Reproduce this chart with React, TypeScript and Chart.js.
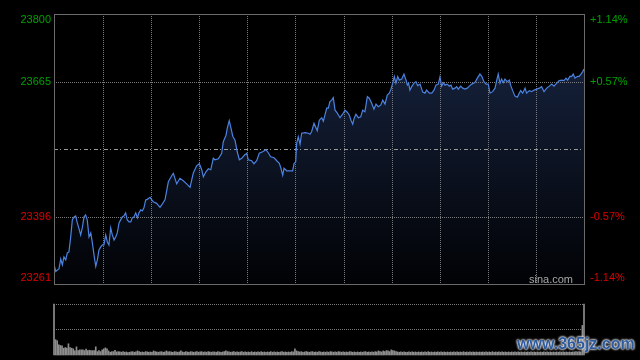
import React, { useEffect, useRef } from 'react';
import { Chart, registerables } from 'chart.js';

Chart.register(...registerables);

// ---- data (minutes since open, 330-minute trading day) ----
const minutes = [
  0, 1.1, 2.1, 3.1, 4.2, 5.2, 6.2, 7.3, 8.3, 9.3,
  10.4, 11.4, 12.5, 13.5, 14.5, 15.6, 16.6, 17.6, 18.7, 19.7,
  20.7, 21.8, 22.9, 23.8, 24.9, 26.0, 27.0, 28.0, 29.1, 30.1,
  31.1, 32.2, 33.2, 34.2, 35.3, 36.3, 37.4, 38.4, 39.4, 40.5,
  41.5, 42.5, 43.6, 44.6, 45.6, 46.7, 47.8, 48.7, 49.8, 50.9,
  51.9, 52.9, 54.0, 55.0, 56.0, 57.1, 58.1,
  59.8, 61.8, 63.9, 66.0, 67.1, 69.1, 71.2, 73.3, 74.3, 76.4,
  78.4, 80.5, 82.6, 84.7, 86.7, 88.8, 90.5, 92.0, 93.0, 94.6,
  96.1, 97.6, 99.2, 100.2, 102.3, 104.4, 105.4, 107.1, 107.9, 109.1,
  110.2, 111.3, 112.7, 114.1, 115.4, 116.9, 118.5, 120.0, 121.0, 123.1,
  124.5, 126.2, 127.8, 129.9, 132.0, 133.4, 134.9, 137.0, 138.7, 140.3,
  141.3, 142.4, 143.2, 144.9, 146.9, 148.6, 149.4, 150.5,
  151.1, 152.1, 153.2, 154.2, 156.3, 158.3, 159.4, 160.4, 161.9, 163.1,
  163.9, 165.2, 166.7, 167.7, 168.7, 169.8, 170.8, 171.8, 172.9, 173.9,
  175.0, 176.4, 178.1, 179.7, 181.2, 182.6, 183.9, 184.9, 186.0, 186.8,
  188.0, 189.5, 191.0, 192.2, 193.6, 195.1, 196.3, 197.8, 199.2, 200.5,
  201.9, 203.4, 204.7, 206.1, 207.5, 208.8, 209.8, 210.9, 211.9, 212.9,
  214.0, 215.0, 216.5, 217.9, 219.2, 220.0, 220.8, 221.6, 222.7, 224.1,
  225.4, 226.4, 227.9, 229.6, 231.0, 232.0, 233.7,
  235.2, 236.6, 237.8, 239.3, 240.3, 241.4, 242.4, 243.5, 244.9, 246.1,
  247.2, 248.2, 249.7, 250.7, 251.7, 253.2, 254.5, 255.9, 257.3, 258.6,
  260.1, 262.1, 263.6, 265.2, 266.3, 267.7, 269.0, 270.4, 271.5, 273.1,
  274.6, 275.6, 276.6, 277.7, 278.7, 279.7, 280.8, 282.2, 283.5, 284.3,
  285.6, 287.0, 288.5, 289.7, 290.6, 291.8, 293.3, 294.3, 295.9, 297.4,
  298.9, 300.5, 302.2, 303.6, 305.1, 306.8, 308.4, 309.9, 311.3, 313.0,
  314.6, 316.1, 317.5, 318.8, 319.8, 321.3, 322.3, 323.3, 324.4, 325.8,
  327.1, 328.1, 329.2, 330,
];

const prices = [
  23300, 23286, 23289, 23291, 23311, 23299, 23315, 23309, 23323, 23325,
  23355, 23389, 23395, 23397, 23383, 23371, 23359, 23373, 23395, 23399,
  23389, 23355, 23363, 23345, 23319, 23296, 23309, 23329, 23335, 23339,
  23339, 23359, 23345, 23339, 23373, 23359, 23349, 23355, 23363, 23383,
  23389, 23395, 23397, 23403, 23389, 23385, 23385, 23393, 23395, 23403,
  23393, 23403, 23409, 23407, 23413, 23429, 23430,
  23434, 23425, 23422, 23414, 23419, 23429, 23465, 23477, 23482, 23461,
  23472, 23467, 23461, 23454, 23482, 23497, 23501, 23489, 23475, 23485,
  23491, 23489, 23512, 23509, 23511, 23522, 23545, 23558, 23572, 23587,
  23572, 23556, 23548, 23525, 23509, 23512, 23518, 23522, 23509, 23507,
  23501, 23507, 23522, 23525, 23529, 23523, 23515, 23513, 23507, 23502,
  23492, 23478, 23492, 23487, 23487, 23487, 23501, 23505,
  23542, 23555, 23540, 23562, 23563, 23562, 23560, 23565, 23582, 23573,
  23567, 23588, 23593, 23586, 23598, 23612, 23612, 23625, 23628, 23633,
  23608, 23602, 23593, 23600, 23608, 23604, 23598, 23588, 23580, 23591,
  23600, 23593, 23595, 23608, 23605, 23635, 23632, 23622, 23610, 23620,
  23615, 23618, 23628, 23620, 23638, 23642, 23650, 23662, 23675, 23662,
  23675, 23668, 23670, 23680, 23668, 23658, 23662, 23648, 23655, 23662,
  23665, 23657, 23660, 23644, 23642, 23648, 23642,
  23642, 23648, 23658, 23660, 23674, 23656, 23663, 23658, 23660, 23656,
  23658, 23650, 23652, 23655, 23650, 23656, 23652, 23650, 23652, 23656,
  23660, 23663, 23672, 23680, 23676, 23665, 23660, 23660, 23642, 23645,
  23652, 23667, 23680, 23662, 23670, 23663, 23670, 23665, 23668, 23658,
  23647, 23636, 23634, 23642, 23647, 23642, 23652, 23642, 23647, 23645,
  23648, 23650, 23652, 23655, 23645, 23652, 23656, 23660, 23656, 23662,
  23667, 23668, 23667, 23672, 23668, 23676, 23675, 23680, 23672, 23675,
  23676, 23680, 23685, 23690,
];

// volume per minute (index = minute)
const volumes = [
  5000, 1500, 1400, 1000, 930, 900, 670, 730, 670, 1100,
  730, 670, 600, 400, 800, 430, 500, 500, 500, 430,
  570, 430, 470, 430, 430, 430, 800, 330, 430, 330,
  500, 600, 700, 600, 400, 270, 330, 330, 470, 300,
  330, 300, 270, 330, 270, 300, 230, 270, 300, 330,
  270, 300, 400, 330, 270, 300, 270, 330, 300, 270,
  300, 270, 400, 330, 300, 270, 300, 330, 270, 300,
  400, 300, 330, 300, 270, 330, 300, 270, 300, 400,
  300, 270, 330, 300, 270, 330, 300, 270, 300, 330,
  270, 300, 330, 270, 300, 270, 330, 300, 270, 300,
  300, 270, 330, 300, 270, 300, 330, 400, 330, 300,
  270, 300, 330, 270, 300, 270, 300, 330, 270, 300,
  270, 300, 270, 330, 270, 300, 270, 300, 270, 330,
  270, 300, 270, 300, 270, 330, 270, 300, 270, 300,
  270, 300, 330, 270, 300, 270, 300, 270, 330, 300,
  600, 400, 330, 300, 330, 270, 300, 330, 300, 270,
  300, 330, 270, 300, 270, 330, 300, 270, 300, 270,
  300, 270, 330, 300, 270, 300, 270, 330, 300, 270,
  300, 270, 300, 270, 330, 300, 270, 300, 270, 300,
  270, 300, 270, 300, 330, 270, 300, 270, 300, 270,
  330, 300, 400, 330, 300, 400, 330, 430, 400, 330,
  500, 430, 400, 330, 300, 270, 300, 270, 300, 270,
  270, 300, 270, 300, 270, 300, 270, 300, 270, 300,
  270, 300, 270, 330, 270, 300, 270, 300, 270, 300,
  270, 300, 270, 300, 270, 300, 270, 300, 270, 300,
  270, 300, 270, 300, 270, 330, 270, 300, 270, 300,
  270, 300, 270, 300, 270, 300, 270, 300, 270, 300,
  270, 300, 270, 330, 270, 300, 270, 300, 270, 300,
  270, 300, 270, 300, 270, 300, 270, 300, 270, 300,
  270, 300, 270, 300, 270, 300, 270, 300, 270, 300,
  270, 300, 270, 300, 270, 300, 270, 300, 270, 300,
  270, 300, 270, 300, 270, 300, 270, 300, 270, 300,
  270, 300, 270, 300, 300, 330, 300, 330, 300, 2900,
  5000,
];

const prevClose = 23530.5;
const priceMin = 23261;
const priceMax = 23800;
const priceTicks = [23800, 23665.25, 23395.75, 23261];
const priceLabels = ['23800', '23665', '23396', '23261'];
const pctLabels = ['+1.14%', '+0.57%', '-0.57%', '-1.14%'];
const gridMinutes = [30, 60, 90, 120, 150, 180, 210, 240, 270, 300];
const dayMinutes = 330;
const volMax = 5000;

const UP = '#00a000';
const DOWN = '#dd0000';
const GRID = '#7a7a7a';
const FONT = '11px "Liberation Sans", Arial, sans-serif';

function drawPriceGrid(chart: any) {
  const { ctx, chartArea: a, scales } = chart;
  const xs = scales.x;
  const ys = scales.y;
  ctx.save();
  ctx.lineWidth = 1;
  ctx.strokeStyle = GRID;
  ctx.setLineDash([1, 1]);
  gridMinutes.forEach((m) => {
    const x = Math.ceil(xs.getPixelForValue(m)) + 0.5;
    ctx.beginPath();
    ctx.moveTo(x, a.top);
    ctx.lineTo(x, a.bottom);
    ctx.stroke();
  });
  [priceTicks[1], priceTicks[2]].forEach((v) => {
    const y = Math.round(ys.getPixelForValue(v)) + 0.5;
    ctx.beginPath();
    ctx.moveTo(a.left, y);
    ctx.lineTo(a.right, y);
    ctx.stroke();
  });
  const yc = Math.round(ys.getPixelForValue(prevClose)) + 0.5;
  ctx.strokeStyle = '#9a9a9a';
  ctx.setLineDash([4, 2, 1, 3]);
  ctx.beginPath();
  ctx.moveTo(a.left, yc);
  ctx.lineTo(a.right, yc);
  ctx.stroke();
  ctx.restore();
}

const pricePlugin = {
  id: 'priceDecor',
  afterDatasetDraw(chart: any, args: any) {
    if (args.index === 1) drawPriceGrid(chart);
  },
  afterDraw(chart: any) {
    const { ctx, chartArea: a, scales } = chart;
    const ys = scales.y;
    ctx.save();
    // frame
    ctx.strokeStyle = '#6a6a6a';
    ctx.lineWidth = 1;
    ctx.setLineDash([]);
    ctx.strokeRect(a.left + 0.5, a.top + 0.5, a.right - a.left, a.bottom - a.top);
    // labels
    ctx.font = FONT;
    ctx.textBaseline = 'middle';
    priceTicks.forEach((v, i) => {
      let y = ys.getPixelForValue(v);
      y = Math.min(Math.max(y, a.top + 6), a.bottom - 6.5);
      ctx.fillStyle = v > prevClose ? UP : DOWN;
      ctx.textAlign = 'right';
      ctx.fillText(priceLabels[i], a.left - 3, y);
      ctx.textAlign = 'left';
      ctx.fillText(pctLabels[i], a.right + 6, y);
    });
    // brand
    ctx.fillStyle = '#a8a8a8';
    ctx.textAlign = 'right';
    ctx.textBaseline = 'alphabetic';
    ctx.font = '11px "Liberation Sans", Arial, sans-serif';
    ctx.fillText('sina.com', a.right - 11, a.bottom - 1);
    ctx.restore();
  },
};

const volPlugin = {
  id: 'volDecor',
  beforeDatasetsDraw(chart: any) {
    const { ctx, chartArea: a, scales } = chart;
    const ys = scales.y;
    ctx.save();
    ctx.strokeStyle = GRID;
    ctx.lineWidth = 1;
    ctx.setLineDash([1, 1]);
    [volMax, volMax / 2].forEach((v) => {
      const y = Math.floor(ys.getPixelForValue(v)) + 0.5;
      ctx.beginPath();
      ctx.moveTo(a.left, y);
      ctx.lineTo(a.right, y);
      ctx.stroke();
    });
    ctx.restore();
  },
};

export default function App() {
  const priceRef = useRef<HTMLCanvasElement>(null);
  const volRef = useRef<HTMLCanvasElement>(null);

  useEffect(() => {
    const n = Math.min(minutes.length, prices.length);
    const pts = [] as { x: number; y: number }[];
    for (let i = 0; i < n; i++) pts.push({ x: minutes[i], y: prices[i] });

    const priceChart = new Chart(priceRef.current as HTMLCanvasElement, {
      type: 'line',
      data: {
        datasets: [
          {
            data: pts,
            borderColor: '#4b82e0',
            borderWidth: 1.2,
            pointRadius: 0,
            fill: false,
            tension: 0,
          },
          {
            data: pts,
            borderWidth: 0,
            borderColor: 'rgba(0,0,0,0)',
            pointRadius: 0,
            fill: 'start',
            tension: 0,
            backgroundColor: (c: any) => {
              const area = c.chart.chartArea;
              if (!area) return 'rgba(0,0,0,0)';
              const g = c.chart.ctx.createLinearGradient(0, area.top, 0, area.bottom);
              g.addColorStop(0, '#192745');
              g.addColorStop(1, '#010205');
              return g;
            },
          },
        ],
      } as any,
      options: {
        responsive: false,
        devicePixelRatio: 1,
        animation: false,
        events: [],
        layout: { padding: { left: 54, right: 56, top: 14, bottom: 16 }, autoPadding: false } as any,
        plugins: { legend: { display: false }, tooltip: { enabled: false } },
        scales: {
          x: { type: 'linear', min: 0, max: dayMinutes, display: false },
          y: { type: 'linear', min: priceMin, max: priceMax, display: false },
        },
      } as any,
      plugins: [pricePlugin],
    });

    const volChart = new Chart(volRef.current as HTMLCanvasElement, {
      type: 'bar',
      data: {
        datasets: [
          {
            data: volumes.map((v, i) => ({ x: i, y: v })),
            backgroundColor: '#8e8e8e',
            barThickness: 1,
            clip: false,
          },
        ],
      } as any,
      options: {
        responsive: false,
        devicePixelRatio: 1,
        animation: false,
        events: [],
        layout: { padding: { left: 54, right: 56, top: 14, bottom: 5 }, autoPadding: false } as any,
        plugins: { legend: { display: false }, tooltip: { enabled: false } },
        scales: {
          x: { type: 'linear', min: 0, max: dayMinutes, display: false, offset: false },
          y: { type: 'linear', min: 0, max: volMax, display: false },
        },
      } as any,
      plugins: [volPlugin],
    });

    return () => {
      priceChart.destroy();
      volChart.destroy();
    };
  }, []);

  return (
    <div
      style={{
        position: 'fixed',
        left: 0,
        top: 0,
        width: 640,
        height: 360,
        background: '#000',
        overflow: 'hidden',
      }}
    >
      <canvas
        ref={priceRef}
        width={640}
        height={300}
        style={{ position: 'absolute', left: 0, top: 0, width: 640, height: 300 }}
      />
      <canvas
        ref={volRef}
        width={640}
        height={70}
        style={{ position: 'absolute', left: 0, top: 290, width: 640, height: 70 }}
      />
      <div
        style={{
          position: 'absolute',
          left: 517,
          top: 335,
          font: 'bold 16px "Liberation Sans", Arial, sans-serif',
          color: '#2d5a9e',
          letterSpacing: 0,
          textShadow: '0 0 2px #fff, 0 0 2px #fff, 0 0 3px #bbb',
          whiteSpace: 'nowrap',
        }}
      >
        www.365jz.com
      </div>
    </div>
  );
}
